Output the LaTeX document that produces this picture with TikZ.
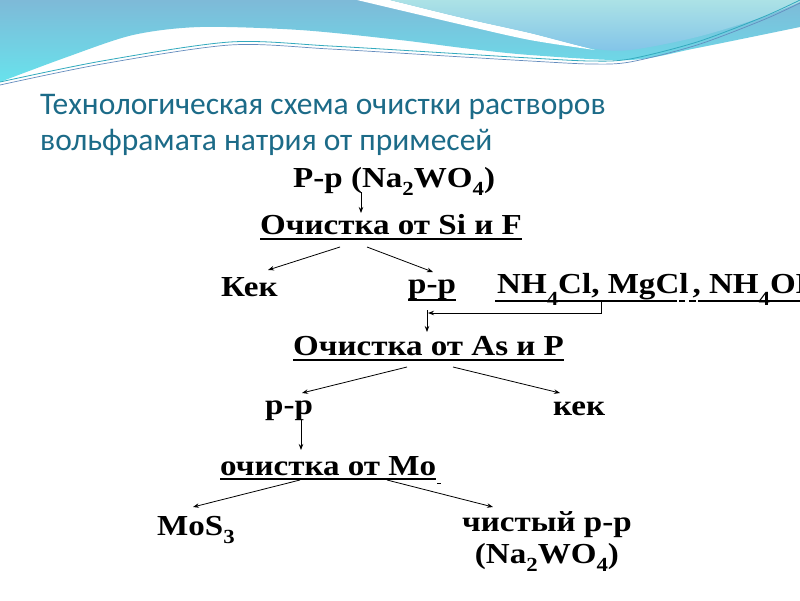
\documentclass[tikz,border=0pt]{standalone}
\usepackage{fontspec}
\setmainfont[FakeStretch=1.14]{Liberation Serif}
\newfontfamily\titlefont{Carlito}
\usetikzlibrary{arrows.meta,calc}
\definecolor{titleblue}{RGB}{28,107,136}
\definecolor{waveA}{RGB}{126,186,216}
\definecolor{waveB}{RGB}{104,226,236}
\definecolor{waveC}{RGB}{172,226,230}
\definecolor{waveD}{RGB}{130,196,232}
\definecolor{lineA}{RGB}{50,170,190}
\definecolor{lineB}{RGB}{100,140,190}
\newcommand\sbs[1]{\raisebox{-8pt}{\fontsize{20}{20}\selectfont #1}}
\newcommand\sbsl[1]{\raisebox{-12pt}{\fontsize{20}{20}\selectfont #1}}
\tikzset{
  lbl/.style={anchor=base west, inner sep=0pt, font=\fontsize{29}{32}\selectfont\bfseries},
  ttl/.style={anchor=base west, inner sep=0pt, text=titleblue, font=\titlefont\fontsize{31.5}{34}\selectfont},
  arr/.style={-{Stealth[length=6pt,width=4.5pt]}, line width=0.8pt},
  uline/.style={line width=1.4pt}
}
\begin{document}
\begin{tikzpicture}[x=1pt,y=-1pt]
\useasboundingbox (0,0) rectangle (800,600);
\fill[white] (0,0) rectangle (800,600);
% background waves
\shade[top color=waveA, bottom color=waveB] (0,0) --
  plot[smooth] coordinates {(0,82) (67,57) (133,35) (200,27) (300,30) (400,40) (463,48) (530,55) (630,60) (697,48) (800,27)}
  -- (800,0) -- cycle;
\fill[white] plot[smooth] coordinates {(357,0) (463,25) (530,40) (595,50)}
  -- plot[smooth] coordinates {(595,50) (530,33) (463,18) (390,0)} -- cycle;
\shade[top color=waveC, bottom color=waveD]
  plot[smooth] coordinates {(390,0) (463,18) (530,33) (590,48) (630,50) (697,37) (763,17) (800,2)}
  -- (800,0) -- cycle;
\draw[lineA, line width=0.8pt] plot[smooth] coordinates {(0,82) (102,61) (230,42) (330,46) (463,54) (530,58) (590,61) (630,59) (697,42) (763,17) (800,0)};
\draw[lineB, line width=0.7pt] plot[smooth] coordinates {(0,85) (102,64) (230,45) (330,49) (463,57) (530,61) (590,64) (630,62) (697,45) (763,20) (800,3)};
% title
\node[ttl] (title1) at (40,114) {Технологическая схема очистки растворов};
\node[ttl] (title2) at (40,150) {вольфрамата натрия от примесей};
% labels
\node[lbl] (rp0) at (293,187) {Р-р (Na\sbs{2}WO\sbs{4})};
\node[lbl] (siF) at (260,234) {Очистка от Si и F};
\node[lbl] (kek1) at (221,296) {Кек};
\node[lbl] (rp1) at (408,293) {р-р};
\node[lbl] (reag) at (497,293) {NH\sbsl{4}Cl, MgCl\hspace{4pt}, NH\sbsl{4}OH};
\node[lbl] (asP) at (293,355) {Очистка от As и P};
\node[lbl] (rp2) at (265,414) {р-р};
\node[lbl] (kek2) at (553,415) {кек};
\node[lbl] (mo) at (220,475) {очистка от Mo};
\node[lbl] (mos3) at (157,535) {MoS\sbs{3}};
\node[lbl, align=center] (pure) at (462,563) {чистый р-р\\(Na\sbs{2}WO\sbs{4})};
% underlines
\draw[uline] ($(siF.base west)+(0,5)$) -- ($(siF.base east)+(0,5)$);
\draw[uline] ($(rp1.base west)+(0,7)$) -- ($(rp1.base east)+(0,7)$);
\draw[uline] ($(reag.base west)+(-2,8)$) -- ($(reag.base west)+(180,8)$);
\draw[uline] ($(reag.base west)+(182,8)$) -- ($(reag.base west)+(188,8)$);
\draw[uline] ($(reag.base west)+(192,8)$) -- ($(reag.base west)+(199,8)$);
\draw[uline] ($(reag.base west)+(201,8)$) -- ($(reag.base east)+(0,8)$);
\draw[uline] ($(asP.base west)+(0,5)$) -- ($(asP.base east)+(0,5)$);
\draw[uline] ($(mo.base west)+(0,4)$) -- ($(mo.base east)+(0,4)$);
\draw[line width=0.6pt] ($(mo.base east)+(1,8)$) -- ($(mo.base east)+(5,8)$);
% connectors
\coordinate (j) at ($(rp1.base west)+(20,20)$);
\draw[arr] ($(rp0.base west)+(68,5)$) -- ($(siF.base west)+(101,-21)$);
\draw[arr] ($(siF.base west)+(80,13)$) -- ($(kek1.base west)+(47,-26)$);
\draw[arr] ($(siF.base west)+(107,13)$) -- ($(rp1.base west)+(25,-21)$);
\draw[arr] ($(reag.base west)+(104,8)$) -- ($(reag.base west)+(104,20)$) -- (j);
\draw[arr] ($(rp1.base west)+(19,17)$) -- ($(asP.base west)+(134,-23)$);
\draw[arr] ($(asP.base west)+(114,12)$) -- ($(rp2.base west)+(37,-21)$);
\draw[arr] ($(asP.base west)+(160,12)$) -- ($(kek2.base west)+(7,-22)$);
\draw[arr] ($(rp2.base west)+(36,6)$) -- ($(mo.base west)+(81,-25)$);
\draw[arr] ($(mo.base west)+(80,5)$) -- ($(mos3.base west)+(36,-28)$);
\draw[arr] ($(mo.base west)+(167,5)$) -- ($(pure.base west)+(31,-56)$);
\end{tikzpicture}
\end{document}
